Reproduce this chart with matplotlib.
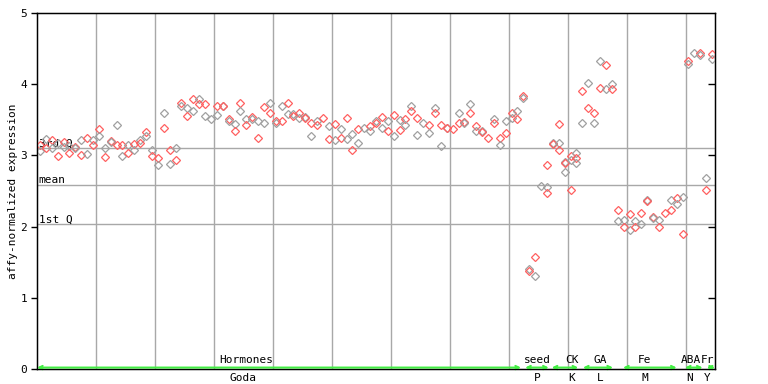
import numpy as np
import matplotlib
matplotlib.use("Agg")
import matplotlib.pyplot as plt
import matplotlib.transforms as mtransforms

nan = np.nan

# expression values per sample (up to three replicates each)
rep_a = [3.15, 3.23, 3.21, 3.17, 3.19, 3.13, 3.12, 3.21, 3.25, 3.21,
         3.37, 3.11, 3.20, 3.42, 3.15, 3.14, 3.16, 3.21, 3.33, 3.07,
         2.96, 3.59, 3.07, 3.10, 3.74, 3.66, 3.79, 3.79, 3.72, 3.51,
         3.69, 3.70, 3.51, 3.44, 3.73, 3.51, 3.54, 3.49, 3.675, 3.73,
         3.49, 3.69, 3.73, 3.58, 3.60, 3.54, 3.45, 3.48, 3.52, 3.41,
         3.44, 3.37, 3.52, 3.30, 3.37, 3.38, 3.41, 3.49, 3.54, 3.49,
         3.57, 3.50, 3.51, 3.69, 3.52, 3.46, 3.42, 3.66, 3.42, 3.39,
         3.37, 3.59, 3.47, 3.72, 3.41, 3.34, 3.24, 3.51, 3.25, 3.48,
         3.60, 3.63, 3.84, 1.41, 1.57, 2.57, 2.87, 3.18, 3.44, 2.91,
         2.99, 3.03, 3.91, 4.01, 3.59, 4.32, 4.27, 4.00, 2.23, 2.09,
         2.17, 2.08, 2.19, 2.37, 2.13, 2.09, 2.19, 2.37, 2.40, 2.42,
         4.32, 4.44, 4.44, 2.68, 4.43]
rep_b = [3.06, 3.11, 3.10, 2.99, 3.12, 3.04, 3.11, 3.01, 3.02, 3.14,
         3.27, 2.98, 3.19, 3.15, 2.99, 3.03, 3.07, 3.18, 3.27, 2.99,
         2.86, 3.39, 2.88, 2.93, 3.69, 3.56, 3.62, 3.72, 3.55, nan,
         3.57, 3.69, 3.49, 3.34, 3.63, 3.42, 3.51, 3.24, 3.45, 3.59,
         3.46, 3.48, 3.58, 3.56, 3.53, 3.52, 3.27, 3.42, nan, 3.23,
         3.21, 3.25, 3.23, 3.07, 3.18, nan, 3.34, 3.46, 3.38, 3.34,
         3.27, 3.35, 3.42, 3.62, 3.28, nan, 3.32, 3.60, 3.13, 3.38,
         nan, 3.45, 3.46, 3.59, 3.34, 3.33, nan, 3.45, 3.15, 3.31,
         3.53, 3.51, 3.80, 1.37, 1.30, nan, 2.55, 3.16, 3.18, 2.90,
         2.93, 2.97, 3.46, 3.66, 3.45, 3.94, 3.93, 3.93, 2.08, 2.00,
         1.95, 2.00, 2.03, 2.36, 2.12, 2.00, nan, 2.24, 2.32, 1.89,
         4.28, nan, 4.41, 2.51, 4.36]
rep_c = {86: 2.47, 88: 3.07, 89: 2.76, 90: 2.51, 91: 2.90}

q3, mean, q1 = 3.10, 2.58, 2.03

groups = ["Hormones", "seed", "CK", "GA", "Fe", "ABA", "Fr"]
codes = ["Goda", "P", "K", "L", "M", "N", "Y"]
group_start = [0, 82.8, 87.3, 92.6, 99.4, 109.9, 113.6]
group_end = [82.1, 86.8, 91.8, 97.7, 108.5, 112.9, 115]
group_label_x = [35.5, 84.8, 90.7, 95.5, 103.1, 111.0, 113.8]
code_label_x = [35.0, 84.8, 90.7, 95.5, 103.1, 110.7, 113.6]

n = len(rep_a)
red = "#ff6060"
grey = "#a0a0a0"

fig = plt.figure(figsize=(7.68, 3.84), dpi=100)
ax = fig.add_axes([37 / 768, 15 / 384, 678 / 768, 356 / 384])
mono = "DejaVu Sans Mono"

ax.set_xlim(0, n)
ax.set_ylim(0, 5)

for gx in range(10, n, 10):
    ax.axvline(gx, color="#a8a8a8", lw=1, zorder=1)
for hy in (q3, mean, q1):
    ax.axhline(hy, color="#a8a8a8", lw=1, zorder=1)

ax.text(0.3, q3, "3rd Q", fontsize=8, family=mono, va="bottom", zorder=2)
ax.text(0.3, mean, "mean", fontsize=8, family=mono, va="bottom", zorder=2)
ax.text(0.3, q1, "1st Q", fontsize=8, family=mono, va="bottom", zorder=2)

xs = np.arange(n) + 0.5
for i in range(n):
    vals = [rep_a[i], rep_b[i]]
    if i in rep_c:
        vals.append(rep_c[i])
    for j, v in enumerate(vals):
        if np.isnan(v):
            continue
        c = grey if (i + j) % 2 else red
        ax.plot(xs[i], v, marker="D", ms=3.8, mfc="none", mec=c, mew=0.9,
                ls="none", zorder=3)

# group ranges along the bottom
trans = mtransforms.blended_transform_factory(ax.transData, ax.transAxes)
for s, e, g, c, gx, cx in zip(group_start, group_end, groups, codes,
                              group_label_x, code_label_x):
    ax.annotate("", xy=(e, 0.004), xytext=(s, 0.004), xycoords=trans,
                textcoords=trans,
                arrowprops=dict(arrowstyle="<->", color="#44ee44", lw=1.5,
                                shrinkA=0, shrinkB=0, mutation_scale=6),
                annotation_clip=False, zorder=4)
    ax.text(gx, 0.012, g, transform=trans, fontsize=8, family=mono,
            ha="center", va="bottom", zorder=5)
    ax.text(cx, -0.01, c, transform=trans, fontsize=8, family=mono,
            ha="center", va="top", clip_on=False)

for sp in ax.spines.values():
    sp.set_color("black")
    sp.set_linewidth(1)
ax.set_xticks([])
ax.set_yticks([0, 1, 2, 3, 4, 5])
ax.tick_params(axis="y", direction="out", length=4, width=1, pad=3,
               labelsize=8)
for lab in ax.get_yticklabels():
    lab.set_family(mono)
ax.set_ylabel("affy-normalized expression", fontsize=8, family=mono,
              labelpad=2)

ax2 = ax.twinx()
ax2.set_ylim(0, 5)
ax2.set_yticks([1, 2, 3, 4])
ax2.tick_params(axis="y", direction="in", length=5, width=1,
                labelright=False)
ax2.set_xticks([])

fig.savefig("out.png", dpi=100)
